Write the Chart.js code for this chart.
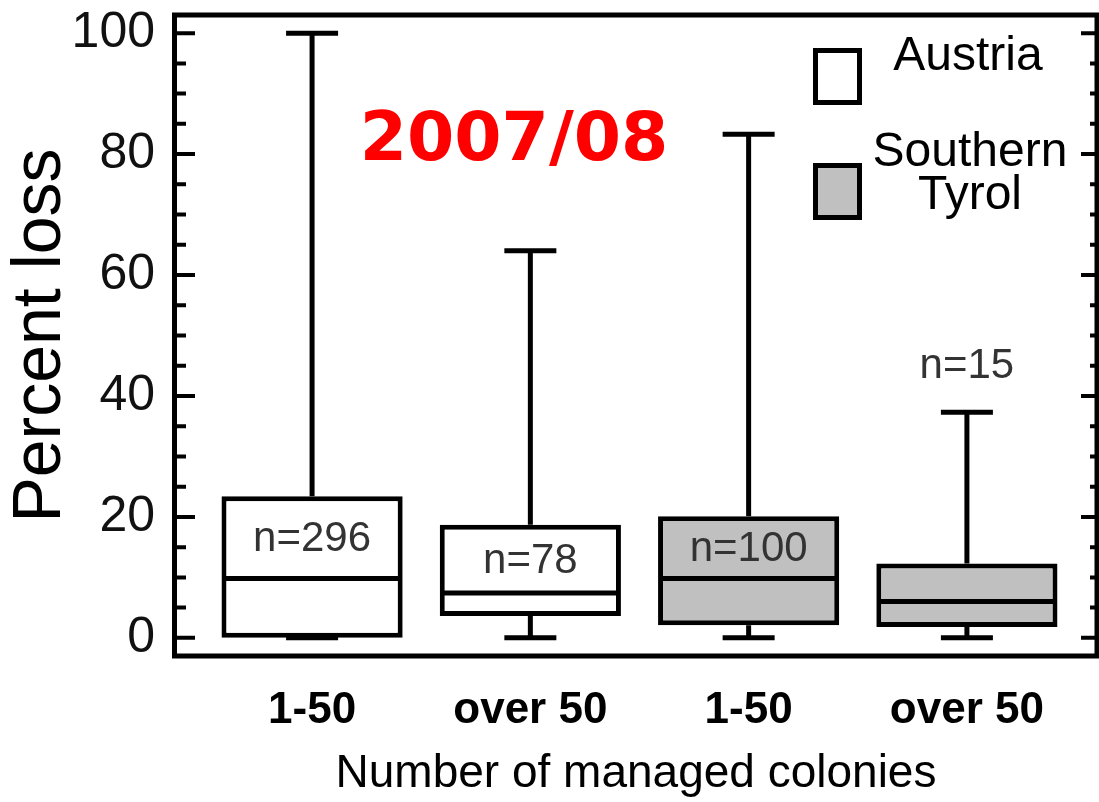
<!DOCTYPE html>
<html>
<head>
<meta charset="utf-8">
<script src="https://cdn.jsdelivr.net/npm/chart.js@4.4.1/dist/chart.umd.min.js"></script>
<style>
html, body { margin: 0; padding: 0; background: #fff; }
</style>
</head>
<body>
<canvas id="lossChart" width="1099" height="802"></canvas>
<script>
// colony losses 2007/08, box plots per region and operation size
var tickLabels = ['1-50', 'over 50', '1-50', 'over 50'];
var regions = ['Austria', 'Austria', 'Southern Tyrol', 'Southern Tyrol'];
var whiskerLow = [0, 0, 0, 0];
var q1 = [0, 3.6, 2.1, 1.8];
var median = [9.8, 7.4, 9.8, 6.0];
var q3 = [23.4, 18.7, 20.1, 12.3];
var whiskerHigh = [100, 64, 83.3, 37.3];
var nLabels = ['n=296', 'n=78', 'n=100', 'n=15'];
var yTicks = [0, 20, 40, 60, 80, 100];
var yMinorStep = 5;

var regionColors = { 'Austria': '#ffffff', 'Southern Tyrol': '#c0c0c0' };

function regionData(name) {
  var out = [];
  for (var i = 0; i < regions.length; i++) {
    if (regions[i] === name) out.push({ x: i, y: [q1[i], q3[i]] });
  }
  return out;
}

var boxParts = {
  id: 'boxParts',
  beforeDatasetsDraw: function(chart) {
    var ctx = chart.ctx, xs = chart.scales.x, ys = chart.scales.y;
    ctx.save();
    ctx.strokeStyle = '#000';
    ctx.lineWidth = 5;
    for (var i = 0; i < q1.length; i++) {
      var cx = xs.getPixelForValue(i);
      var top = ys.getPixelForValue(whiskerHigh[i]);
      var bot = ys.getPixelForValue(whiskerLow[i]);
      ctx.beginPath();
      ctx.moveTo(cx, ys.getPixelForValue(q3[i]));
      ctx.lineTo(cx, top);
      ctx.moveTo(cx, ys.getPixelForValue(q1[i]));
      ctx.lineTo(cx, bot);
      ctx.moveTo(cx - 26, top); ctx.lineTo(cx + 26, top);
      ctx.moveTo(cx - 26, bot); ctx.lineTo(cx + 26, bot);
      ctx.stroke();
    }
    ctx.restore();
  },
  afterDatasetsDraw: function(chart) {
    var ctx = chart.ctx, xs = chart.scales.x, ys = chart.scales.y;
    ctx.save();
    ctx.strokeStyle = '#000';
    ctx.lineWidth = 5;
    chart.data.datasets.forEach(function(ds, d) {
      chart.getDatasetMeta(d).data.forEach(function(bar, j) {
        var i = ds.data[j].x;
        var my = ys.getPixelForValue(median[i]);
        ctx.beginPath();
        ctx.moveTo(bar.x - bar.width / 2 + 2, my);
        ctx.lineTo(bar.x + bar.width / 2 - 2, my);
        ctx.stroke();
      });
    });
    // sample sizes
    ctx.fillStyle = '#333';
    ctx.font = '42px "Liberation Sans", Arial, sans-serif';
    ctx.textAlign = 'center';
    ctx.textBaseline = 'middle';
    for (var i = 0; i < nLabels.length; i++) {
      var cx = xs.getPixelForValue(i);
      var pTop = ys.getPixelForValue(q3[i]);
      var pMed = ys.getPixelForValue(median[i]);
      var ty;
      if (pMed - pTop > 50) ty = (pTop + pMed) / 2 + 2;
      else ty = ys.getPixelForValue(whiskerHigh[i]) - 46;
      ctx.fillText(nLabels[i], cx, ty);
    }
    ctx.restore();
  },
  afterDraw: function(chart) {
    var ctx = chart.ctx, a = chart.chartArea, ys = chart.scales.y;
    ctx.save();
    ctx.strokeStyle = '#000';
    ctx.lineWidth = 5;
    // frame
    ctx.beginPath();
    ctx.moveTo(a.left - 0.5, a.top);
    ctx.lineTo(a.left - 0.5, a.bottom);
    ctx.moveTo(a.left - 3, a.top); ctx.lineTo(a.right + 2, a.top);
    ctx.moveTo(a.left - 3, a.bottom); ctx.lineTo(a.right + 2, a.bottom);
    ctx.moveTo(a.right, a.top); ctx.lineTo(a.right, a.bottom);
    ctx.stroke();
    // inward ticks, both sides
    ctx.lineWidth = 4;
    ctx.beginPath();
    for (var v = yTicks[0]; v <= yTicks[yTicks.length - 1]; v += yMinorStep) {
      var py = ys.getPixelForValue(v);
      var len = yTicks.indexOf(v) >= 0 ? 20 : 11;
      ctx.moveTo(a.left, py); ctx.lineTo(a.left + len, py);
      ctx.moveTo(a.right, py); ctx.lineTo(a.right - len + 4, py);
    }
    ctx.stroke();

    // legend
    var lx = 815.5, names = ['Austria', 'Southern Tyrol'], boxY = [50.5, 165.5];
    ctx.lineWidth = 5;
    for (var k = 0; k < names.length; k++) {
      ctx.fillStyle = regionColors[names[k]];
      ctx.fillRect(lx, boxY[k], 44, 52);
      ctx.strokeRect(lx, boxY[k], 44, 52);
    }
    ctx.fillStyle = '#000';
    ctx.font = '48px "Liberation Sans", Arial, sans-serif';
    ctx.textAlign = 'center';
    ctx.textBaseline = 'alphabetic';
    ctx.fillText('Austria', 968, 70);
    ctx.fillText('Southern', 970, 166);
    ctx.fillText('Tyrol', 970, 209);

    // season label
    ctx.fillStyle = '#ff0000';
    ctx.font = 'bold 68px "DejaVu Sans", Verdana, sans-serif';
    ctx.fillText('2007/08', 514, 160);
    ctx.restore();
  }
};

var ctx = document.getElementById('lossChart').getContext('2d');
var chart = new Chart(ctx, {
  type: 'bar',
  data: {
    datasets: [
      { label: 'Austria', data: regionData('Austria'), backgroundColor: regionColors['Austria'] },
      { label: 'Southern Tyrol', data: regionData('Southern Tyrol'), backgroundColor: regionColors['Southern Tyrol'] }
    ]
  },
  options: {
    responsive: false,
    animation: false,
    layout: { padding: { top: 15, right: 2, left: 0, bottom: 0 } },
    datasets: {
      bar: {
        grouped: false,
        barPercentage: 0.83,
        categoryPercentage: 1,
        borderColor: '#000',
        borderWidth: 5,
        borderSkipped: false
      }
    },
    plugins: {
      legend: { display: false },
      tooltip: { enabled: false }
    },
    scales: {
      x: {
        type: 'linear',
        offset: false,
        min: -0.628,
        max: 3.596,
        grid: { display: false, drawTicks: false, offset: false },
        border: { display: false },
        afterBuildTicks: function(s) {
          s.ticks = tickLabels.map(function(t, i) { return { value: i }; });
        },
        afterFit: function(s) {
          s.height = 146;
          s.paddingLeft = 0; s.paddingRight = 0;
        },
        ticks: {
          padding: 28,
          color: '#000',
          font: { family: '"Liberation Sans", Arial, sans-serif', size: 44, weight: 'bold' },
          callback: function(v) { return tickLabels[v]; }
        },
        title: {
          display: true,
          text: 'Number of managed colonies',
          color: '#000',
          padding: { top: 0, bottom: 0 },
          font: { family: '"Liberation Sans", Arial, sans-serif', size: 46 }
        }
      },
      y: {
        min: -3,
        max: 103,
        grid: { display: false, drawTicks: false },
        border: { display: false },
        afterBuildTicks: function(s) {
          s.ticks = yTicks.map(function(v) { return { value: v }; });
        },
        afterFit: function(s) {
          s.width = 175;
          s.paddingTop = 0; s.paddingBottom = 0;
        },
        ticks: {
          padding: 20,
          color: '#111',
          font: { family: '"Liberation Sans", Arial, sans-serif', size: 50 }
        },
        title: {
          display: true,
          text: 'Percent loss',
          color: '#000',
          padding: 0,
          font: { family: '"Liberation Sans", Arial, sans-serif', size: 68, lineHeight: 1.2 }
        }
      }
    }
  },
  plugins: [boxParts]
});
</script>
</body>
</html>
